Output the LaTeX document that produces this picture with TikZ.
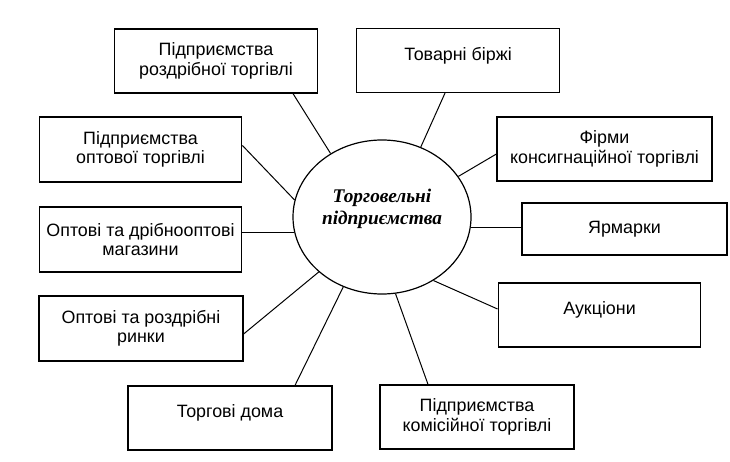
\documentclass[tikz,border=0pt]{standalone}
\usepackage{fontspec}
\setmainfont{Liberation Sans}
\newfontfamily\ovalfont{Liberation Serif}
\usepackage{tikz}
\usetikzlibrary{calc, shapes.geometric}

\begin{document}
\begin{tikzpicture}[x=0.75pt, y=0.75pt,
    box/.style={draw, line width=0.9pt, minimum width=152pt, minimum height=48pt, inner sep=0pt, align=center, font=\fontsize{13.4}{14.5}\selectfont},
    oneline/.style={box, text depth=10pt},
    link/.style={line width=0.75pt}]
    \useasboundingbox (0,0) rectangle (730,461);

    \node[ellipse, draw, line width=0.9pt, minimum width=133.5pt, minimum height=115.5pt, inner sep=0pt, align=center, text depth=16pt, font=\ovalfont\bfseries\itshape\fontsize{14.5}{16.5}\selectfont] (c) at (382,244) {Торговельні\\підприємства};

    \node[box] (rozdr) at (216,400) {Підприємства\\роздрібної торгівлі};
    \node[oneline] (birzh) at (458,400.5) {Товарні біржі};
    \node[box, minimum height=48.75pt] (opt) at (140.5,311.5) {Підприємства\\оптової торгівлі};
    \node[box, minimum width=161.25pt] (firm) at (604.5,312) {Фірми\\консигнаційної торгівлі};
    \node[box, minimum height=48.75pt] (mag) at (140.5,221.5) {Оптові та дрібнооптові\\магазини};
    \node[box, minimum width=153.75pt, minimum height=39pt] (yarm) at (624.5,232) {Ярмарки};
    \node[box, minimum width=153pt, minimum height=48.75pt] (rynk) at (141,132.5) {Оптові та роздрібні\\ринки};
    \node[oneline] (auk) at (599.5,146) {Аукціони};
    \node[oneline, minimum width=153pt] (dom) at (230,43) {Торгові дома};
    \node[box, minimum width=145.5pt] (kom) at (477,44) {Підприємства\\комісійної торгівлі};

    % spokes from the oval to the boxes
    \draw[link] (c.129) -- ($(rozdr.south)+(77,0)$);
    \draw[link] (c.61) -- ($(birzh.south)+(-13,0)$);
    \draw[link] (c.169) -- ($(opt.east)+(0,4)$);
    \draw[link] (c.28) -- ($(firm.west)+(0,-5)$);
    \draw[link] (c.190) -- (c.190 -| mag.east);
    \draw[link] (c.-7) -- (c.-7 -| yarm.west);
    \draw[link] (c.221) -- ($(rynk.east)+(0,-5.5)$);
    \draw[link] (c.-51) -- ($(auk.west)+(0,6)$);
    \draw[link] (c.241) -- ($(dom.north)+(65,0)$);
    \draw[link] (c.280) -- ($(kom.north)+(-49,0)$);
\end{tikzpicture}
\end{document}
